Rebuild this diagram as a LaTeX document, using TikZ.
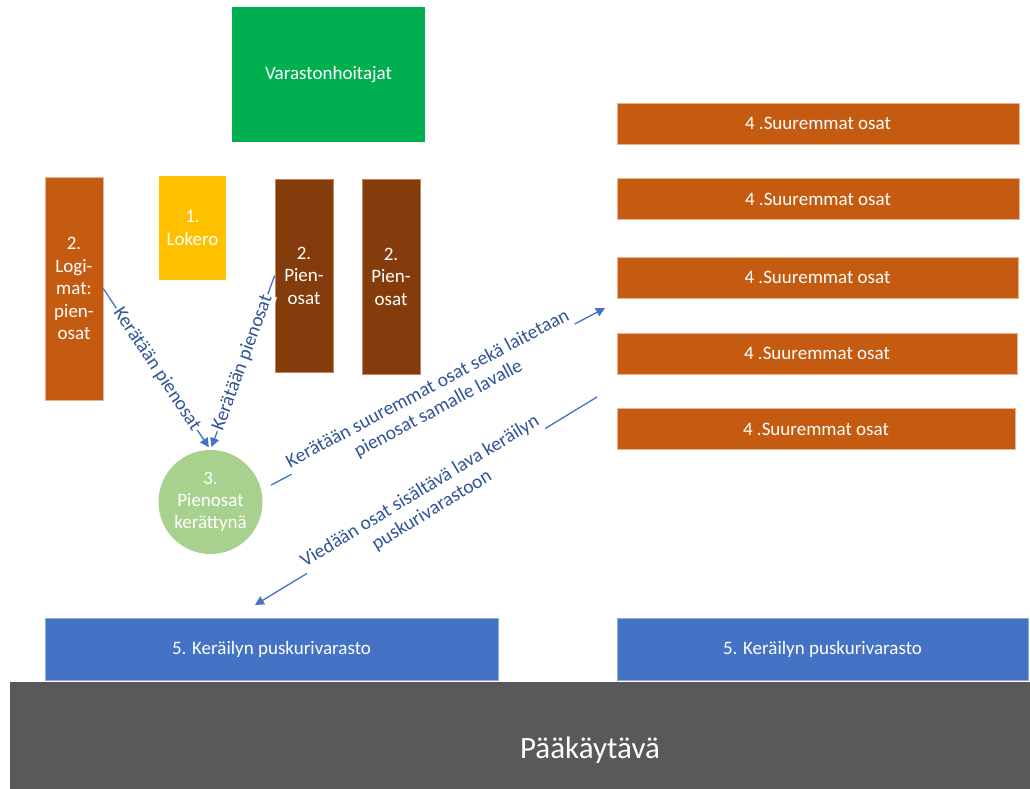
\documentclass[tikz,border=0pt]{standalone}
\usepackage{fontspec}
\setmainfont{Carlito}
\usetikzlibrary{arrows.meta}
\definecolor{cGreen}{HTML}{00B050}
\definecolor{cOrange}{HTML}{C55A11}
\definecolor{cBrown}{HTML}{843C0C}
\definecolor{cYellow}{HTML}{FFC000}
\definecolor{cLeaf}{HTML}{A9D18E}
\definecolor{cBlue}{HTML}{4472C4}
\definecolor{cGray}{HTML}{595959}
\definecolor{cLabel}{HTML}{2F5597}
\definecolor{cEdge}{HTML}{E8B58F}
\begin{document}
\begin{tikzpicture}[x=1pt,y=-1pt,
  box/.style={rectangle, inner sep=0pt, text=white, align=center,
    font=\fontsize{19}{22.5}\selectfont},
  orangebox/.style={box, fill=cOrange, draw=cEdge, line width=0.6pt},
  brownbox/.style={box, fill=cBrown, draw=cEdge!60!cBrown, line width=0.6pt},
  bluebox/.style={box, fill=cBlue, draw=cBlue!60!white, line width=0.6pt},
  flow/.style={draw=cBlue, line width=1.3pt, -{Triangle[length=9pt,width=9pt]}},
  lbl/.style={fill=white, inner sep=1.5pt, text=cLabel, align=center,
    font=\fontsize{19.5}{22.5}\selectfont, sloped}]
\useasboundingbox (0,0) rectangle (1030,789);
\fill[white] (0,0) rectangle (1030,789);

% storage staff
\node[box, fill=cGreen, minimum width=193pt, minimum height=135pt] (keepers) at (328.5,74.5) {Varastonhoitajat};

% small-parts storage
\node[orangebox, minimum width=58pt, minimum height=223pt] (logimat) at (74,288.5) {2.\\Logi-\\mat:\\pien-\\osat};
\node[box, fill=cYellow, minimum width=67pt, minimum height=104pt] (lokero) at (192.5,228) {1.\\Lokero};
\node[brownbox, minimum width=58pt, minimum height=193pt] (small1) at (304,275.5) {2.\\Pien-\\osat};
\node[brownbox, minimum width=58pt, minimum height=195pt] (small2) at (391,276.5) {2.\\Pien-\\osat};

% larger parts racks
\node[orangebox, minimum width=402pt, minimum height=41pt] (large1) at (818,123.5) {4 .Suuremmat osat};
\node[orangebox, minimum width=402pt, minimum height=41pt] (large2) at (818,199) {4 .Suuremmat osat};
\node[orangebox, minimum width=401pt, minimum height=41pt] (large3) at (817.5,277.5) {4 .Suuremmat osat};
\node[orangebox, minimum width=400pt, minimum height=41pt] (large4) at (817,353.5) {4 .Suuremmat osat};
\node[orangebox, minimum width=398pt, minimum height=41pt] (large5) at (816,429) {4 .Suuremmat osat};

% collected small parts
\node[circle, fill=cLeaf, text=white, align=center, inner sep=0pt, minimum size=104pt,
  font=\fontsize{19}{22}\selectfont] (circ) at (210.5,502) {3.\\Pienosat\\kerättynä};

% buffer stores and main aisle
\node[bluebox, minimum width=453pt, minimum height=62pt] (buffer1) at (271.5,649) {5. Keräilyn puskurivarasto};
\node[bluebox, minimum width=411pt, minimum height=62pt] (buffer2) at (822.5,649) {5. Keräilyn puskurivarasto};
\node[rectangle, fill=cGray, inner sep=0pt, minimum width=1020pt, minimum height=107pt] (aisle) at (520,735.5) {};
\node[text=white, font=\fontsize{31}{36}\selectfont] (aislelbl) at (590,750) {Pääkäytävä};

% flows
\coordinate (toLarge) at (605,308);
\coordinate (fromLarge) at (597,397);
\coordinate (toBuffer) at (255,605);
\draw[flow, shorten >=3pt] (logimat.east) -- node[lbl] {Kerätään pienosat} (circ.north);
\draw[flow, shorten >=3pt] (small1.west) -- node[lbl] {Kerätään pienosat} (circ.north);
\draw[flow, shorten <=11pt] (circ.13) -- node[lbl] {Kerätään suuremmat osat sekä laitetaan\\pienosat samalle lavalle} (toLarge);
\draw[flow] (fromLarge) -- node[lbl] {Viedään osat sisältävä lava keräilyn\\puskurivarastoon} (toBuffer);
\end{tikzpicture}
\end{document}
